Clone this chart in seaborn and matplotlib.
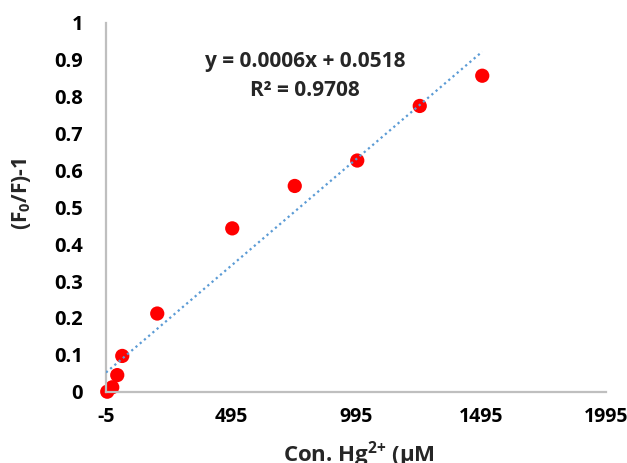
import numpy as np
import pandas as pd
import matplotlib
matplotlib.use("Agg")
import matplotlib.pyplot as plt
import seaborn as sns

# data
conc = [0, 20, 40, 60, 200, 500, 750, 1000, 1250, 1500]
response = [0.0, 0.012, 0.045, 0.097, 0.212, 0.443, 0.558, 0.627, 0.775, 0.857]
x_ticks = [-5, 495, 995, 1495, 1995]
y_ticks = [0, 0.1, 0.2, 0.3, 0.4, 0.5, 0.6, 0.7, 0.8, 0.9, 1.0]
y_tick_labels = ["0", "0.1", "0.2", "0.3", "0.4", "0.5", "0.6", "0.7", "0.8", "0.9", "1"]
eq_text = "y = 0.0006x + 0.0518"
r2_text = "R² = 0.9708"

sns.set_theme(style="white")
FONT = "Open Sans"
plt.rcParams["font.family"] = [FONT, "DejaVu Sans"]
plt.rcParams["mathtext.fontset"] = "custom"
plt.rcParams["mathtext.rm"] = FONT
plt.rcParams["mathtext.bf"] = FONT + ":bold"
plt.rcParams["mathtext.it"] = FONT + ":italic"

df = pd.DataFrame({"conc": conc, "resp": response})

# linear trendline (least squares)
slope, intercept = np.polyfit(conc, response, 1)
tx = np.array([-5, max(conc)])
trend = pd.DataFrame({"x": tx, "y": slope * tx + intercept})

fig = plt.figure(figsize=(6.27, 4.63), dpi=100)
ax = fig.add_axes([106 / 627, 1 - 391.7 / 463, 500 / 627, (391.7 - 23) / 463])

sns.lineplot(data=trend, x="x", y="y", ax=ax, color="#5B9BD5", linestyle=(0, (1, 1.5)),
             linewidth=1.6, zorder=3)
sns.scatterplot(data=df, x="conc", y="resp", ax=ax, color="#FF0000", s=105,
                edgecolor="none", zorder=2, clip_on=False)

ax.set_xlim(-5, 1995)
ax.set_ylim(0, 1)
ax.set_xticks(x_ticks)
ax.set_xticklabels([str(t) for t in x_ticks], fontsize=14, fontweight="bold")
ax.set_yticks(y_ticks)
ax.set_yticklabels(y_tick_labels, fontsize=14.5, fontweight="bold")
ax.tick_params(axis="both", length=0, colors="black")
ax.tick_params(axis="x", pad=11)
ax.tick_params(axis="y", pad=16.5)

for s in ["top", "right"]:
    ax.spines[s].set_visible(False)
for s in ["left", "bottom"]:
    ax.spines[s].set_color("#BFBFBF")
    ax.spines[s].set_linewidth(1.6)

ax.set_xlabel(r"Con. Hg$^{\mathbf{2{+}}}$ (µM", fontsize=16, fontweight="bold")
ax.set_ylabel(r"(F$_{\mathbf{0}}$/F)-1", fontsize=15, fontweight="bold")
ax.xaxis.set_label_coords(0.506, -0.128)
ax.yaxis.set_label_coords(-0.169, 0.536)
ax.yaxis.label.set_va("center")

ax.text(305 / 627, 1 - 62 / 463, eq_text, transform=fig.transFigure, ha="center", va="center",
        fontsize=15, fontweight="bold")
ax.text(305 / 627, 1 - 90 / 463, r2_text, transform=fig.transFigure, ha="center", va="center",
        fontsize=15, fontweight="bold")

fig.savefig("out.png", dpi=100)
